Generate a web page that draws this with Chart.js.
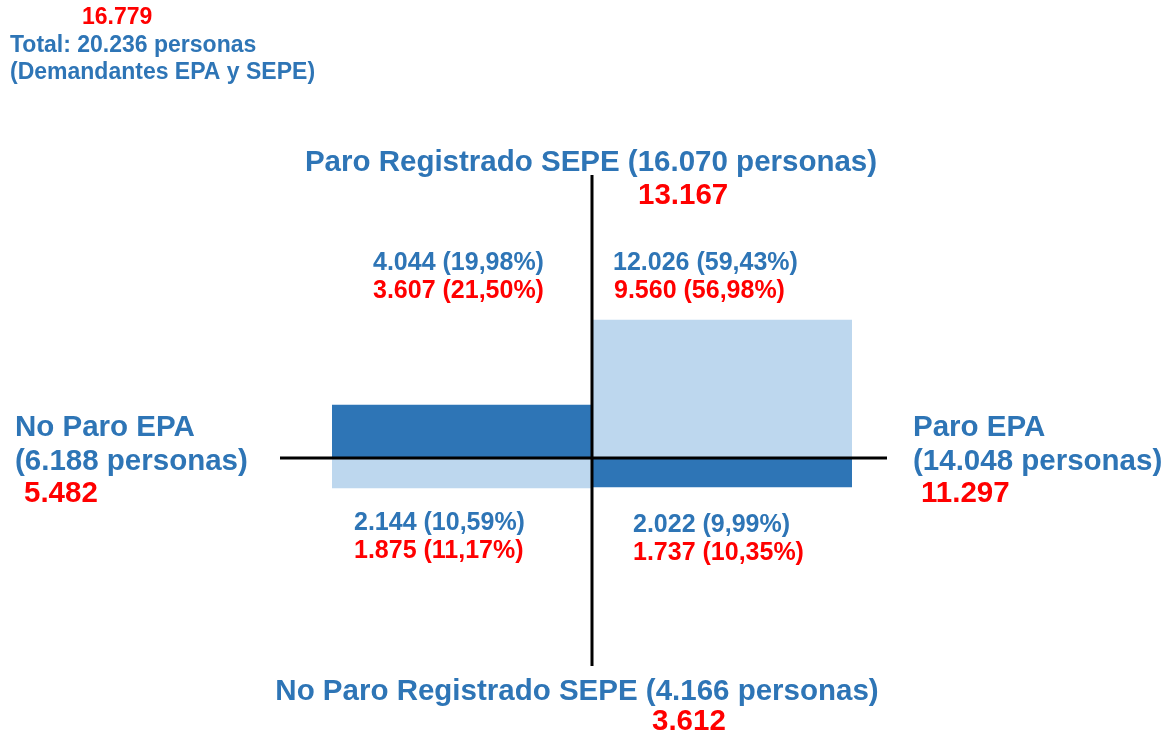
<!DOCTYPE html>
<html>
<head>
<meta charset="utf-8">
<script src="https://cdn.jsdelivr.net/npm/chart.js@4/dist/chart.umd.min.js"></script>
<style>
  html, body { margin: 0; padding: 0; background: #fff; }
  #wrap { width: 1164px; height: 735px; }
</style>
</head>
<body>
<div id="wrap"><canvas id="quadChart" width="1164" height="735"></canvas></div>
<script>
// categorias: lado izquierdo (No Paro EPA) y derecho (Paro EPA)
var categories = ['No Paro EPA', 'Paro EPA'];
// altura de las barras sobre el eje (Paro Registrado SEPE) y bajo el eje (No Paro Registrado SEPE)
var upperValues = [53, 138];
var lowerValues = [-30, -29];
var upperColors = ['#2E75B6', '#BDD7EE'];
var lowerColors = ['#BDD7EE', '#2E75B6'];
var axisMin = -208;
var axisMax = 283;

// textos
var totalRed = '16.779';
var totalLines = ['Total: 20.236 personas', '(Demandantes EPA y SEPE)'];
var topTitle = 'Paro Registrado SEPE (16.070 personas)';
var topRed = '13.167';
var bottomTitle = 'No Paro Registrado SEPE (4.166 personas)';
var bottomRed = '3.612';
var leftTitle = ['No Paro EPA', '(6.188 personas)'];
var leftRed = '5.482';
var rightTitle = ['Paro EPA', '(14.048 personas)'];
var rightRed = '11.297';
var quadBlue = ['4.044 (19,98%)', '12.026 (59,43%)', '2.144 (10,59%)', '2.022 (9,99%)'];
var quadRed = ['3.607 (21,50%)', '9.560 (56,98%)', '1.875 (11,17%)', '1.737 (10,35%)'];

var BLUE = '#2E75B6';
var RED = '#FF0000';
var FONT = '"Liberation Sans", Arial, sans-serif';

function txt(ctx, s, x, y, size, color, align) {
  ctx.font = 'bold ' + size + 'px ' + FONT;
  ctx.fillStyle = color;
  ctx.textAlign = align || 'left';
  ctx.textBaseline = 'middle';
  ctx.fillText(s, x, y);
}

var quadrantPlugin = {
  id: 'quadrant',
  afterDatasetsDraw: function(chart) {
    var ctx = chart.ctx;
    var area = chart.chartArea;
    var y0 = chart.scales.y.getPixelForValue(0);
    var xMid = (area.left + area.right) / 2;

    ctx.save();
    ctx.strokeStyle = '#000';
    ctx.lineWidth = 3;
    ctx.beginPath();
    ctx.moveTo(area.left - 52, y0);
    ctx.lineTo(area.right + 35, y0);
    ctx.moveTo(xMid, area.top);
    ctx.lineTo(xMid, area.bottom);
    ctx.stroke();

    // esquina superior
    txt(ctx, totalRed, 82, 18, 23, RED);
    txt(ctx, totalLines[0], 10, 46, 23, BLUE);
    txt(ctx, totalLines[1], 10, 73, 23, BLUE);

    // ejes
    txt(ctx, topTitle, 591, 163, 29.5, BLUE, 'center');
    txt(ctx, topRed, 638, 196, 29.5, RED);
    txt(ctx, bottomTitle, 577, 692, 29.5, BLUE, 'center');
    txt(ctx, bottomRed, 652, 722, 29.5, RED);
    txt(ctx, leftTitle[0], 15, 428, 29.5, BLUE);
    txt(ctx, leftTitle[1], 15, 462, 29.5, BLUE);
    txt(ctx, leftRed, 24, 494, 29.5, RED);
    txt(ctx, rightTitle[0], 913, 428, 29.5, BLUE);
    txt(ctx, rightTitle[1], 913, 462, 29.5, BLUE);
    txt(ctx, rightRed, 921, 494, 29.5, RED);

    // cuadrantes
    var qx = [373, 613, 354, 633];
    var qy = [263, 263, 523, 525];
    for (var i = 0; i < 4; i++) {
      txt(ctx, quadBlue[i], qx[i], qy[i], 25, BLUE);
      txt(ctx, quadRed[i], qx[i] + (i === 1 ? 1 : 0), qy[i] + 28, 25, RED);
    }
    ctx.restore();
  }
};

new Chart(document.getElementById('quadChart').getContext('2d'), {
  type: 'bar',
  data: {
    labels: categories,
    datasets: [{
      data: upperValues,
      backgroundColor: upperColors,
      borderWidth: 0,
      barPercentage: 1,
      categoryPercentage: 1
    }, {
      data: lowerValues,
      backgroundColor: lowerColors,
      borderWidth: 0,
      barPercentage: 1,
      categoryPercentage: 1
    }]
  },
  options: {
    responsive: false,
    animation: false,
    layout: {
      padding: { left: 332, right: 312, top: 175, bottom: 69 }
    },
    scales: {
      x: { stacked: true, display: false },
      y: { stacked: true, display: false, min: axisMin, max: axisMax }
    },
    plugins: {
      legend: { display: false },
      tooltip: { enabled: false }
    }
  },
  plugins: [quadrantPlugin]
});
</script>
</body>
</html>
